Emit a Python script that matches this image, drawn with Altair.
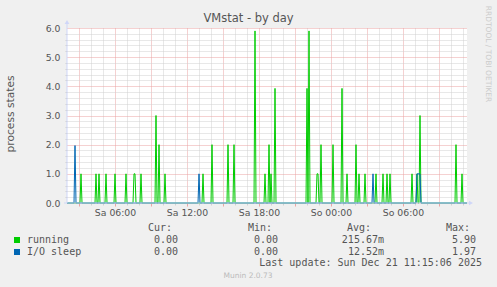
import altair as alt
import pandas as pd

# ---------------- data ----------------
running_times = ["Sa 03:10", "Sa 04:25", "Sa 04:40", "Sa 05:15", "Sa 06:00", "Sa 06:55",
                 "Sa 07:35", "Sa 07:40", "Sa 08:10", "Sa 09:25", "Sa 09:40", "Sa 10:10",
                 "Sa 13:20", "Sa 14:05", "Sa 15:25", "Sa 15:55", "Sa 17:40", "Sa 18:30",
                 "Sa 18:50", "Sa 19:00", "Sa 19:20", "Sa 22:00", "Sa 22:10", "Sa 22:50",
                 "Sa 22:55", "Sa 23:10", "So 00:10", "So 00:55", "So 01:20", "So 02:05",
                 "So 02:20", "So 02:50", "So 03:45", "So 04:20", "So 04:40", "So 04:55",
                 "So 06:45", "So 07:10", "So 07:25", "So 10:25", "So 10:55"]
running_vals = [1.0, 1.0, 1.0, 1.0, 1.0, 1.0,
                1.0, 1.0, 1.0, 3.0, 2.0, 1.0,
                1.0, 2.0, 2.0, 2.0, 5.9, 1.0,
                2.0, 1.0, 3.93, 3.93, 5.9, 1.0,
                1.0, 2.0, 2.0, 3.93, 1.0, 2.0,
                1.0, 1.0, 1.0, 1.0, 1.0, 1.0,
                1.0, 1.0, 3.0, 2.0, 1.0]
io_times = ["Sa 02:40", "Sa 13:00", "So 03:30", "So 07:10", "So 07:15", "So 07:20", "So 07:25"]
io_vals = [1.97, 1.0, 1.0, 1.0, 1.0, 1.0, 1.0]

x_tick_hours = [6, 12, 18, 24, 30]
x_tick_labels = ["Sa 06:00", "Sa 12:00", "Sa 18:00", "So 00:00", "So 06:00"]

legend_names = ["running", "I/O sleep"]
legend_colors = ["#00CC00", "#0066B3"]
cur_vals = ["0.00", "0.00"]
min_vals = ["0.00", "0.00"]
avg_vals = ["215.67m", "12.52m"]
max_vals = ["5.90", "1.97"]
headers = ["Cur:", "Min:", "Avg:", "Max:"]
title_text = "VMstat - by day"
y_title = "process states"
last_update = "Last update: Sun Dec 21 11:15:06 2025"
munin_text = "Munin 2.0.73"
rrd_text = "RRDTOOL / TOBI OETIKER"

# ---------------- build 5-minute series ----------------
START_K, END_K = 24, 424  # Sa 02:00 .. So 11:20 in 5-min steps


def to_k(s):
    d, hm = s.split()
    hh, mm = map(int, hm.split(":"))
    return ((0 if d == "Sa" else 24) * 60 + hh * 60 + mm) // 5


run_map = {to_k(t): v for t, v in zip(running_times, running_vals)}
io_map = {to_k(t): v for t, v in zip(io_times, io_vals)}
ks = list(range(START_K, END_K + 1))
df = pd.DataFrame({
    "h": [k / 12 for k in ks],
    "running": [run_map.get(k, 0.0) for k in ks],
    "io": [io_map.get(k, 0.0) for k in ks],
})

# ---------------- layout ----------------
PL, PT = 67, 28
W, H = 400, 175
SANS = "DejaVu Sans"
MONO = "DejaVu Sans Mono"
FONT_C = "#555555"
AXIS_C = "#CFD6F8"

xs = alt.Scale(domain=[2, END_K / 12], nice=False, zero=False)
ys = alt.Scale(domain=[0, 6], nice=False)

minor_h = [h for h in range(3, 36) if h % 3 != 0]
major_h = [h for h in range(3, 36, 3)]
minor_y = [round(i * 0.2, 1) for i in range(31) if i % 5 != 0]
major_y = [0, 1, 2, 3, 4, 5, 6]

base = alt.Chart(df)

minor = base.mark_line(opacity=0).encode(
    x=alt.X("h:Q", scale=xs, axis=alt.Axis(
        orient="bottom", values=minor_h, grid=True, gridColor="#d0d0d0", gridDash=[1, 1],
        labels=False, ticks=True, tickColor="#d0d0d0", tickSize=2, domain=False, title=None)),
    y=alt.Y("running:Q", scale=ys, axis=alt.Axis(
        orient="left", values=minor_y, grid=True, gridColor="#d0d0d0", gridDash=[1, 1],
        labels=False, ticks=True, tickColor="#d0d0d0", tickSize=2, domain=False, title=None)),
)

major = base.mark_line(opacity=0).encode(
    x=alt.X("h:Q", scale=xs, axis=alt.Axis(
        orient="bottom", values=major_h, grid=True, gridColor="#eba3a3", gridDash=[1, 1],
        labels=False, ticks=True, tickColor="#eba3a3", tickSize=3, domain=False, title=None)),
    y=alt.Y("running:Q", scale=ys, axis=alt.Axis(
        orient="left", values=major_y, grid=True, gridColor="#eba3a3", gridDash=[1, 1],
        labels=True, format=".1f", labelFont=SANS, labelFontSize=9.3, labelColor=FONT_C,
        labelPadding=7, ticks=False, domain=False, title=None)),
)

label_expr = "{labels}[indexof({vals}, datum.value)]".format(
    labels=str(x_tick_labels).replace("'", "'"), vals=str(x_tick_hours))

run_line = base.mark_line(color=legend_colors[0], strokeWidth=1).encode(
    x=alt.X("h:Q", scale=xs, axis=alt.Axis(
        orient="bottom", values=x_tick_hours, labelExpr=label_expr, grid=False,
        ticks=False, domain=False, labelFont=SANS, labelFontSize=9.3, labelColor=FONT_C,
        labelPadding=5, title=None)),
    y=alt.Y("running:Q", scale=ys, axis=None),
)
io_line = base.mark_line(color=legend_colors[1], strokeWidth=1).encode(
    x=alt.X("h:Q", scale=xs, axis=None),
    y=alt.Y("io:Q", scale=ys, axis=None),
)

one = pd.DataFrame({"a": [0]})
y_dom = alt.Chart(one).mark_rule(color=AXIS_C, strokeWidth=1).encode(
    x=alt.value(0), y=alt.value(-5), y2=alt.value(H))
x_dom = alt.Chart(one).mark_rule(color=AXIS_C, strokeWidth=1).encode(
    x=alt.value(-3), x2=alt.value(W + 3), y=alt.value(H))
y_arrow = alt.Chart(one).mark_point(shape="triangle-up", filled=True, size=22,
                                    color=AXIS_C, opacity=1).encode(
    x=alt.value(0), y=alt.value(-6))
x_arrow = alt.Chart(one).mark_point(shape="triangle-right", filled=True, size=22,
                                    color=AXIS_C, opacity=1).encode(
    x=alt.value(W + 4), y=alt.value(H))


def txt(text, x, y, size=10.0, align="left", font=MONO, color=FONT_C, angle=0):
    return alt.Chart(pd.DataFrame({"t": [text]})).mark_text(
        align=align, baseline="middle", fontSize=size, font=font, color=color,
        angle=angle).encode(x=alt.value(x - PL), y=alt.value(y - PT), text="t:N")


texts = [
    txt(title_text, 248.5, 19, size=11.5, align="center", font=SANS, color="#555555"),
    txt(y_title, 11, 114, size=10.7, align="center", font=SANS, angle=270),
    txt(rrd_text, 488, 54, size=7.5, align="center", font=SANS, color="#cccccc", angle=90),
    txt(munin_text, 248, 276, size=7.5, align="center", font=SANS, color="#bbbbbb"),
    txt(last_update, 482, 263, align="right"),
]
for hdr, xr in zip(headers, [172, 272, 371, 470]):
    texts.append(txt(hdr, xr, 228, align="right"))
rows_y = [240, 252]
for i in range(2):
    texts.append(txt(legend_names[i], 27, rows_y[i]))
    for vals, xr in zip([cur_vals, min_vals, avg_vals, max_vals], [178, 278, 384, 476]):
        texts.append(txt(vals[i], xr, rows_y[i], align="right"))

sq = alt.Chart(pd.DataFrame({"name": legend_names, "row": [0, 1]})).mark_square(
    filled=True, size=36, opacity=1).encode(
    x=alt.value(17 - PL),
    y=alt.Y("row:Q", scale=alt.Scale(domain=[0, 1], range=[240 - PT, 252 - PT]), axis=None),
    color=alt.Color("name:N", scale=alt.Scale(domain=legend_names, range=legend_colors),
                    legend=None),
)

chart = alt.layer(minor, major, run_line, io_line, x_dom, y_dom, x_arrow, y_arrow,
                  sq, *texts).resolve_axis(x="independent", y="independent").resolve_scale(
    y="independent").properties(
    width=W, height=H,
    autosize=alt.AutoSizeParams(type="none"),
    padding={"left": PL, "top": PT, "right": 497 - PL - W, "bottom": 287 - PT - H},
    background="#F0F0F0",
).configure_view(fill="white", strokeWidth=0)

chart.save("out.html", embed_options={"renderer": "svg", "actions": False})
